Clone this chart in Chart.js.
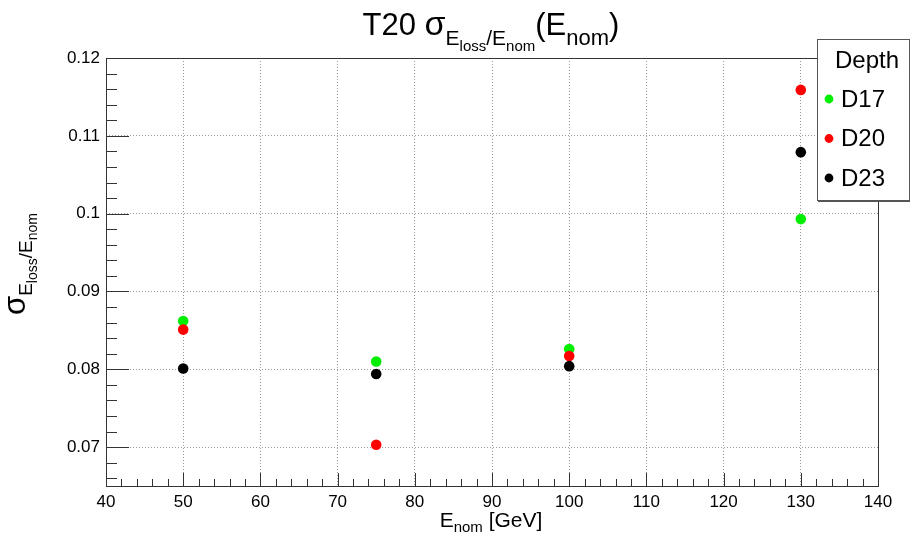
<!DOCTYPE html>
<html>
<head>
<meta charset="utf-8">
<script src="https://cdn.jsdelivr.net/npm/chart.js"></script>
<style>
  html, body { margin: 0; padding: 0; background: #fff; }
  #wrap { width: 911px; height: 541px; }
</style>
</head>
<body>
<div id="wrap"><canvas id="chart" width="911" height="541"></canvas></div>
<script>
// data
const energies = [50, 75, 100, 130];
const d17 = [0.0862, 0.0810, 0.0826, 0.0993];
const d20 = [0.0851, 0.0703, 0.0817, 0.1159];
const d23 = [0.0801, 0.0794, 0.0804, 0.1079];
const depthLabels = ['D17', 'D20', 'D23'];
const depthColors = ['#00ee00', '#ff0000', '#000000'];
const xTickValues = [40, 50, 60, 70, 80, 90, 100, 110, 120, 130, 140];
const yTickValues = [0.07, 0.08, 0.09, 0.1, 0.11, 0.12];

const FONT = '"Liberation Sans", Arial, sans-serif';

function toPoints(ys) {
  return energies.map((e, i) => ({ x: e, y: ys[i] }));
}

// text pieces with sub/superscript offsets
function richWidth(ctx, parts) {
  let w = 0;
  parts.forEach(p => {
    ctx.font = p.size + 'px ' + FONT;
    w += ctx.measureText(p.t).width + (p.gap || 0);
  });
  return w;
}
function drawRich(ctx, parts, x, y) {
  parts.forEach(p => {
    ctx.font = p.size + 'px ' + FONT;
    ctx.fillText(p.t, x, y + (p.dy || 0));
    x += ctx.measureText(p.t).width + (p.gap || 0);
  });
}

const rootDecor = {
  id: 'rootDecor',
  beforeDatasetsDraw(chart) {
    const { ctx, chartArea: a, scales } = chart;
    const xs = scales.x, ys = scales.y;
    ctx.save();
    ctx.strokeStyle = '#333';
    ctx.lineWidth = 1;
    ctx.beginPath();
    // x ticks, inside the frame
    for (let v = xs.min; v <= xs.max + 1e-9; v += 2) {
      const px = Math.round(xs.getPixelForValue(v)) + 0.5;
      const len = Math.abs(v % 10) < 1e-6 ? 13 : 7;
      ctx.moveTo(px, a.bottom);
      ctx.lineTo(px, a.bottom - len);
    }
    // y ticks
    for (let k = 33; k <= 60; k++) {
      const v = k * 0.002;
      if (v < ys.min - 1e-9 || v > ys.max + 1e-9) continue;
      const py = Math.round(ys.getPixelForValue(v)) + 0.5;
      const len = k % 5 === 0 ? 23 : 11;
      ctx.moveTo(a.left, py);
      ctx.lineTo(a.left + len, py);
    }
    ctx.stroke();
    // frame
    ctx.strokeRect(Math.round(a.left) + 0.5, Math.round(a.top) + 0.5,
      Math.round(a.right - a.left), Math.round(a.bottom - a.top));
    ctx.restore();
  },
  afterDraw(chart) {
    const { ctx, chartArea: a } = chart;
    ctx.save();
    ctx.fillStyle = '#000';
    ctx.textBaseline = 'alphabetic';
    ctx.textAlign = 'left';

    // title
    const title = [
      { t: 'T20 ', size: 31 },
      { t: 'σ', size: 34 },
      { t: 'E', size: 21, dy: 10 },
      { t: 'loss', size: 15, dy: 16 },
      { t: '/', size: 21, dy: 10 },
      { t: 'E', size: 21, dy: 10 },
      { t: 'nom', size: 15, dy: 16 },
      { t: '(E', size: 31 },
      { t: 'nom', size: 22, dy: 10 },
      { t: ')', size: 31 }
    ];
    const tw = richWidth(ctx, title);
    drawRich(ctx, title, 491 - tw / 2, 35);

    // x axis title
    const xt = [
      { t: 'E', size: 21 },
      { t: 'nom', size: 15, dy: 5 },
      { t: ' [GeV]', size: 21 }
    ];
    const xw = richWidth(ctx, xt);
    drawRich(ctx, xt, 491 - xw / 2, 527);

    // y axis title, rotated
    const yt = [
      { t: 'σ', size: 31 },
      { t: 'E', size: 19, dy: 7 },
      { t: 'loss', size: 14, dy: 12 },
      { t: '/', size: 19, dy: 7 },
      { t: 'E', size: 19, dy: 7 },
      { t: 'nom', size: 14, dy: 12 }
    ];
    const yw = richWidth(ctx, yt);
    ctx.save();
    ctx.translate(25, 264 + yw / 2);
    ctx.rotate(-Math.PI / 2);
    drawRich(ctx, yt, 0, 0);
    ctx.restore();

    // legend box
    const lx = 817, ly = 39, lw = 92, lh = 161;
    ctx.fillStyle = '#fff';
    ctx.fillRect(lx, ly, lw, lh);
    ctx.strokeStyle = '#555';
    ctx.lineWidth = 1;
    ctx.strokeRect(lx + 0.5, ly + 0.5, lw, lh);
    ctx.beginPath();
    ctx.moveTo(lx + 1, ly + lh + 1.5);
    ctx.lineTo(lx + lw + 1, ly + lh + 1.5);
    ctx.stroke();

    ctx.fillStyle = '#000';
    ctx.font = '24px ' + FONT;
    ctx.textAlign = 'center';
    ctx.fillText('Depth', 867, 68);
    ctx.textAlign = 'left';
    ctx.textBaseline = 'middle';
    depthLabels.forEach((lab, i) => {
      const cy = 99 + i * 39.5;
      ctx.fillStyle = depthColors[i];
      ctx.beginPath();
      ctx.arc(829, cy, 4.4, 0, Math.PI * 2);
      ctx.fill();
      ctx.fillStyle = '#000';
      ctx.fillText(lab, 841, cy + 1);
    });
    ctx.restore();
  }
};

const series = [d17, d20, d23];

new Chart(document.getElementById('chart'), {
  type: 'scatter',
  data: {
    datasets: series.map((ys, i) => ({
      label: depthLabels[i],
      data: toPoints(ys),
      backgroundColor: depthColors[i],
      borderColor: depthColors[i],
      borderWidth: 0,
      pointRadius: 5.3,
      pointHoverRadius: 5.3,
      order: series.length - i
    }))
  },
  options: {
    responsive: false,
    animation: false,
    events: [],
    layout: { padding: { top: 58, right: 33, left: 0, bottom: 0 } },
    plugins: {
      legend: { display: false },
      title: { display: false },
      tooltip: { enabled: false }
    },
    scales: {
      x: {
        type: 'linear',
        min: 40,
        max: 140,
        afterFit(scale) { scale.height = 55; },
        afterBuildTicks(scale) { scale.ticks = xTickValues.map(v => ({ value: v })); },
        grid: { color: '#999', drawTicks: false, lineWidth: 1 },
        border: { display: false, dash: [1, 2] },
        ticks: {
          padding: 6,
          color: '#000',
          font: { family: FONT, size: 17 },
          maxRotation: 0,
          autoSkip: false
        }
      },
      y: {
        type: 'linear',
        min: 0.065,
        max: 0.12,
        afterFit(scale) { scale.width = 106; },
        afterBuildTicks(scale) { scale.ticks = yTickValues.map(v => ({ value: v })); },
        grid: { color: '#999', drawTicks: false, lineWidth: 1 },
        border: { display: false, dash: [1, 2] },
        ticks: {
          padding: 6,
          color: '#000',
          font: { family: FONT, size: 17 },
          autoSkip: false,
          callback: v => String(Number(v.toFixed(3)))
        }
      }
    }
  },
  plugins: [rootDecor]
});
</script>
</body>
</html>
